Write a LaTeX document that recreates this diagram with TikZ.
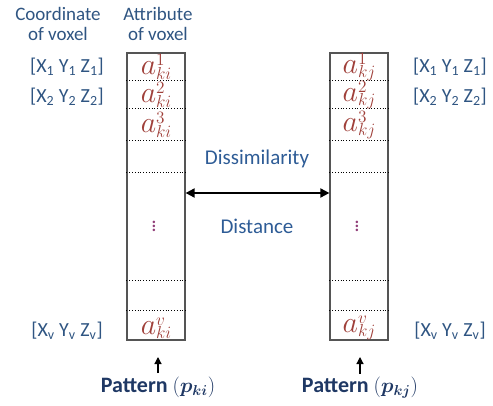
\documentclass[tikz,border=0pt]{standalone}
\usepackage{amsmath,bm,graphicx}
\usepackage{fontspec}
\setmainfont{Carlito}
\usetikzlibrary{arrows.meta, positioning, calc}
\definecolor{voxblue}{RGB}{47,85,130}
\definecolor{voxtext}{RGB}{46,92,150}
\definecolor{voxnavy}{RGB}{31,56,100}
\definecolor{voxred}{RGB}{160,64,58}
\definecolor{voxdots}{RGB}{145,62,120}
\definecolor{voxgray}{RGB}{85,85,85}
\tikzset{
  column/.style={
    rectangle, draw=voxgray, line width=1.2pt, fill=white,
    minimum width=58pt, minimum height=287pt, inner sep=0pt
  },
  heading/.style={font=\fontsize{19}{20}\selectfont, text=voxblue, align=center},
  coord/.style={font=\fontsize{20}{22}\selectfont, text=voxblue},
  attrib/.style={font=\fontsize{24.88}{26}\selectfont, text=voxred, inner sep=1pt},
  gap/.style={font=\fontsize{20.74}{22}\selectfont, text=voxdots, inner sep=1pt},
  metric/.style={font=\fontsize{21}{23}\selectfont, text=voxtext},
  pattern/.style={font=\bfseries\fontsize{22}{24}\selectfont, text=voxnavy},
  cellline/.style={dotted, line width=0.8pt},
  bothflow/.style={{Triangle[length=9pt,width=9pt]}-{Triangle[length=9pt,width=9pt]}, line width=1.8pt},
  upflow/.style={-{Triangle[length=7pt,width=7pt]}, line width=1.2pt}
}
\newcommand{\coordtxt}[1]{[X\textsubscript{#1} Y\textsubscript{#1} Z\textsubscript{#1}]}
% a with a tight superscript/subscript stack
\newcommand{\voxattr}[2]{\scalebox{1.2}{$a$\raisebox{-3.5pt}{\fontsize{14.4}{10}\selectfont\shortstack[l]{$#2$\\[-2pt]$#1$}}}}

\begin{document}
\begin{tikzpicture}[x=1pt, y=-1pt]
\useasboundingbox (0,0) rectangle (493,406);

% headings
\node[heading] (hcoord) at (58,24) {Coordinate\\of voxel};
\node[heading] (hattr) at (158,24) {Attribute\\of voxel};

% the two columns
\node[column] (boxi) at (156,196.5) {};
\node[column] (boxj) at (359,196.5) {};

% cell separators
\foreach \y in {80,108,140,172,280,310} {
  \draw[cellline] (boxi.west |- 0,\y) -- (boxi.east |- 0,\y);
  \draw[cellline] (boxj.west |- 0,\y) -- (boxj.east |- 0,\y);
}

% attributes
\node[attrib] (ai1) at (156,67) {\voxattr{ki}{1}};
\node[attrib] (ai2) at (156,95) {\voxattr{ki}{2}};
\node[attrib] (ai3) at (156,125) {\voxattr{ki}{3}};
\node[gap] (aidots) at (154,223) {$\vdots$};
\node[attrib] (aiv) at (156,328) {\voxattr{ki}{v}};
\node[attrib] (aj1) at (359,67) {\voxattr{kj}{1}};
\node[attrib] (aj2) at (359,95) {\voxattr{kj}{2}};
\node[attrib] (aj3) at (359,125) {\voxattr{kj}{3}};
\node[gap] (ajdots) at (357,223) {$\vdots$};
\node[attrib] (ajv) at (359,328) {\voxattr{kj}{v}};

% coordinates
\node[coord] (ci1) at (67,67) {\coordtxt{1}};
\node[coord] (ci2) at (67,97) {\coordtxt{2}};
\node[coord] (civ) at (67,331) {\coordtxt{v}};
\node[coord] (cj1) at (450,67) {\coordtxt{1}};
\node[coord] (cj2) at (450,97) {\coordtxt{2}};
\node[coord] (cjv) at (450,331) {\coordtxt{v}};

% distance between patterns
\node[metric] (dis) at (257,159) {Dissimilarity};
\node[metric] (dist) at (257,226) {Distance};
\draw[bothflow] ([yshift=3.5pt]boxi.east) -- ([yshift=3.5pt]boxj.west);

% pattern labels
\node[pattern] (pati) at (158,387) {Pattern $(\bm{p}_{\bm{ki}})$};
\node[pattern] (patj) at (360,388) {Pattern $(\bm{p}_{\bm{kj}})$};
\coordinate (tipi) at (158,357);
\coordinate (tipj) at (360,357);
\draw[upflow] (pati.north) -- (tipi);
\draw[upflow] (patj.north) -- (tipj);
\end{tikzpicture}
\end{document}
